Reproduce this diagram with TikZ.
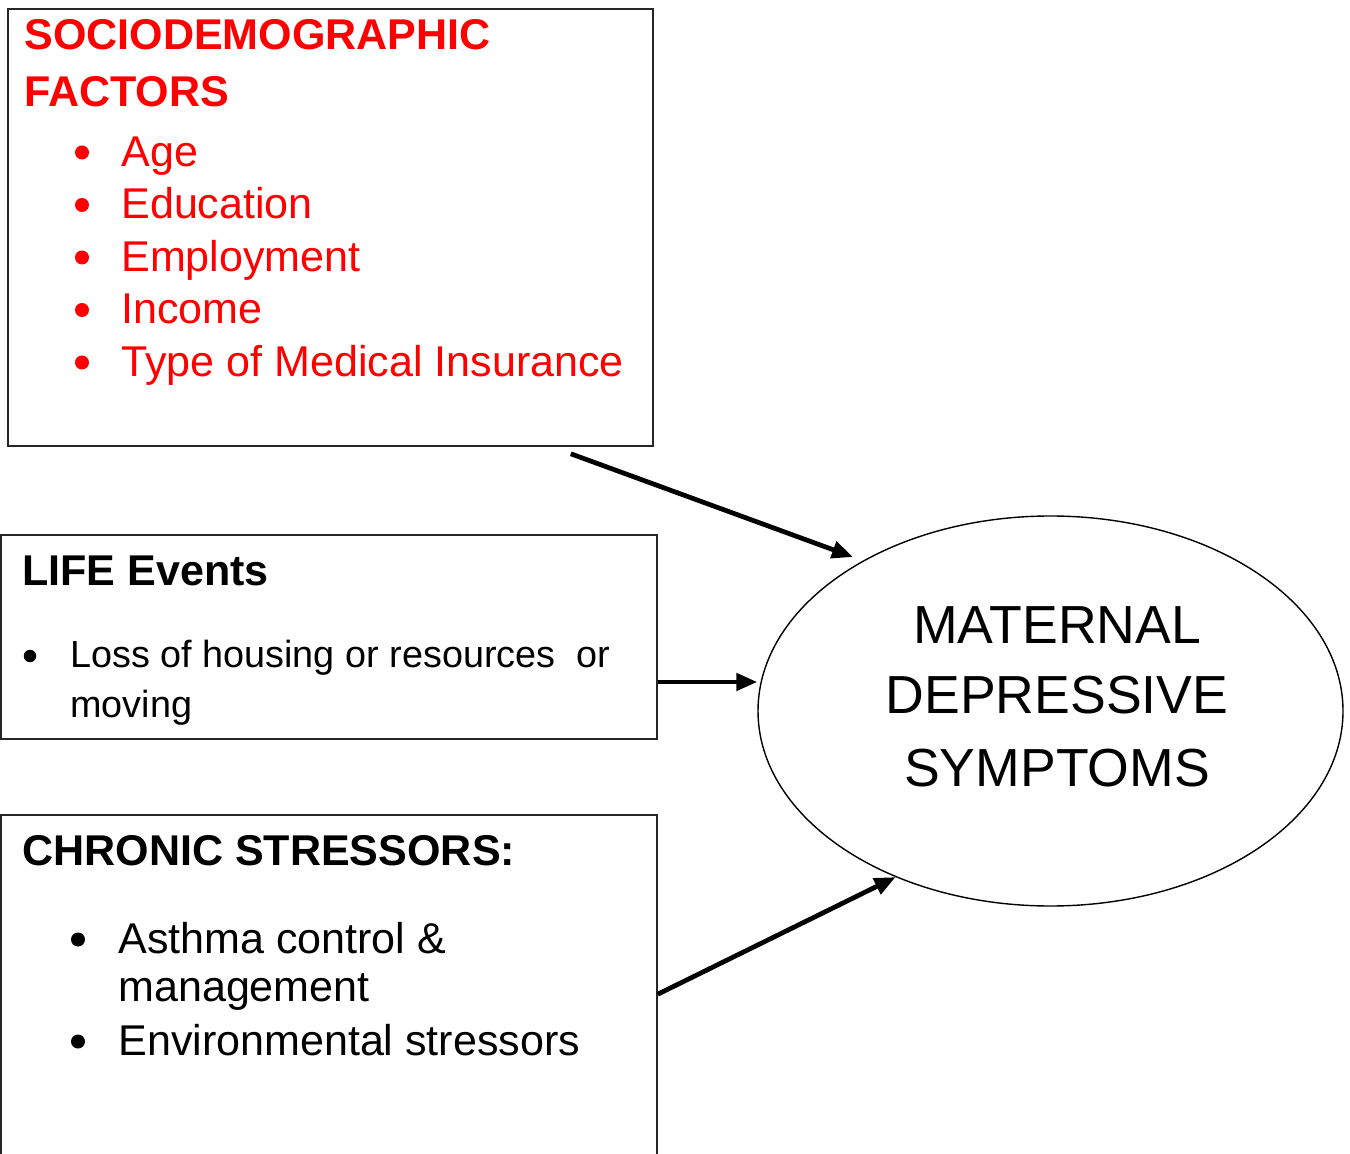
\documentclass[tikz,border=0pt]{standalone}
\usepackage{fontspec}
\setmainfont{Liberation Sans}
\usetikzlibrary{shapes.geometric,arrows.meta}
\definecolor{factred}{RGB}{255,0,0}

\begin{document}
\begin{tikzpicture}[
		box/.style={draw=black!85, line width=0.9pt, inner sep=0pt},
		head/.style={anchor=base west, inner sep=0pt, font=\fontsize{24.5}{29}\selectfont\bfseries},
		item/.style={anchor=base west, inner sep=0pt, font=\fontsize{24.5}{29}\selectfont},
		dot/.style={circle, fill, inner sep=0pt, minimum size=0.28cm},
		bigtxt/.style={anchor=base, inner sep=0pt, font=\fontsize{30.5}{36}\selectfont},
		conn/.style={line width=2.7pt, -{Triangle[length=0.42cm, width=0.34cm]}}
	]
		%%%%% START %%%%%
		\useasboundingbox (0, 0) rectangle (27, 23.06);
		\clip (0, 0) rectangle (27, 23.06);
		
		% sociodemographic factors
		\node[box, minimum width=12.9cm, minimum height=8.74cm] (sdf) at (6.61, 18.51) {};
		\node[head, color=factred] (sdfa) at (0.48, 22.06) {SOCIODEMOGRAPHIC};
		\node[head, color=factred] (sdfb) at (0.48, 20.92) {FACTORS};
		\foreach \txt [count=\i] in {Age, Education, Employment, Income, Type of Medical Insurance} {
			\node[dot, color=factred] (sdfdot\i) at (1.64, {21.06-1.05*\i}) {};
			\node[item, color=factred] (sdfitem\i) at (2.42, {20.78-1.05*\i}) {\txt};
		}
		
		% life events
		\node[box, minimum width=13.12cm, minimum height=4.08cm] (life) at (6.58, 10.32) {};
		\node[head] (lifea) at (0.44, 11.34) {LIFE Events};
		\node[dot, minimum size=0.25cm] (lifedot) at (0.6, 9.94) {};
		\node[item, font=\fontsize{21.5}{26}\selectfont] (lifeb) at (1.40, 9.70) {Loss of housing or resources~ or};
		\node[item, font=\fontsize{21.5}{26}\selectfont] (lifec) at (1.40, 8.72) {moving};
		
		% chronic stressors
		\node[box, minimum width=13.12cm, minimum height=7.76cm] (chron) at (6.58, 2.88) {};
		\node[head] (chrona) at (0.44, 5.76) {CHRONIC STRESSORS:};
		\node[dot] (chrondot1) at (1.56, 4.27) {};
		\node[item] (chronb) at (2.36, 4.00) {Asthma control \&};
		\node[item] (chronc) at (2.36, 3.03) {management};
		\node[dot] (chrondot2) at (1.56, 2.23) {};
		\node[item] (chrond) at (2.36, 1.96) {Environmental stressors};
		
		% outcome
		\node[draw, ellipse, line width=0.8pt, minimum width=11.7cm, minimum height=7.8cm, inner sep=0pt] (mds) at (21.01, 8.84) {};
		\node[bigtxt] (mdsa) at (21.14, 10.18) {MATERNAL};
		\node[bigtxt] (mdsb) at (21.14, 8.78) {DEPRESSIVE};
		\node[bigtxt] (mdsc) at (21.14, 7.34) {SYMPTOMS};
		
		% arrows into the ellipse
		\coordinate (sdfout) at ([xshift=-1.66cm, yshift=-0.14cm]sdf.south east);
		\coordinate (sdfin) at ([xshift=-3.95cm, yshift=3.08cm]mds.center);
		\coordinate (lifeout) at ([yshift=-0.9cm]life.east);
		\coordinate (chrout) at ([yshift=-3.6cm]chron.north east);
		\draw[conn] (sdfout) -- (sdfin);
		\draw[conn] (lifeout) -- (lifeout -| mds.west);
		\draw[conn] (chrout) -- (mds.227);
		
		%%%%% END %%%%%
	\end{tikzpicture}
\end{document}
